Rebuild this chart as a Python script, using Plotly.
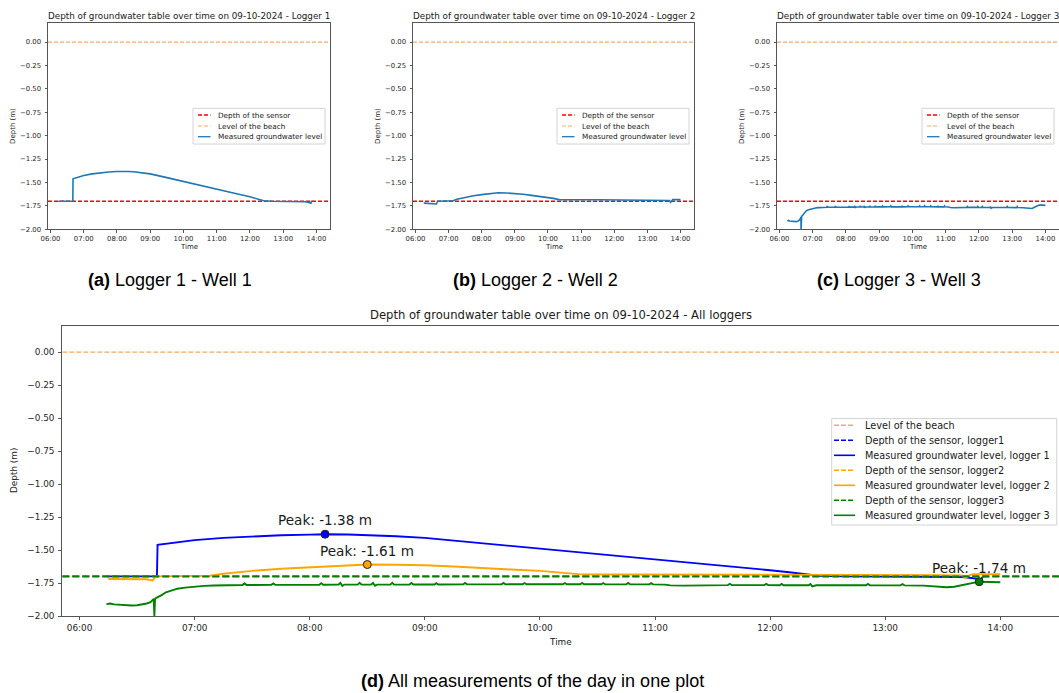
import plotly.graph_objects as go

DAY = "2024-10-09"
FIG_W, FIG_H = 1059, 693
FONT = "DejaVu Sans"
CAPTION_FONT = "Liberation Sans"

# ---------------------------------------------------------------------------
# Groundwater depth (m, relative to the beach level) per logger, 09-10-2024
# ---------------------------------------------------------------------------
logger1_time = ["06:14:00", "06:20:00", "06:30:00", "06:40:20", "06:40:40", "06:45:00",
                "06:50:00", "07:00:00", "07:15:00", "07:30:00", "07:45:00", "08:00:00",
                "08:08:00", "08:20:00", "08:30:00", "08:45:00", "09:00:00", "09:30:00",
                "10:00:00", "10:30:00", "11:00:00", "11:30:00", "12:00:00", "12:10:00",
                "12:20:00", "12:25:00", "12:40:00", "13:00:00", "13:20:00", "13:40:00",
                "13:45:00", "13:48:00", "13:50:00", "13:51:00", "13:54:00"]
logger1_depth = [-1.700, -1.701, -1.701, -1.700, -1.460, -1.452,
                 -1.442, -1.425, -1.408, -1.396, -1.388, -1.383,
                 -1.380, -1.382, -1.386, -1.396, -1.408, -1.448,
                 -1.491, -1.532, -1.573, -1.613, -1.653, -1.668,
                 -1.684, -1.695, -1.700, -1.701, -1.703, -1.705,
                 -1.712, -1.718, -1.722, -1.700, -1.700]

logger2_time = ["06:15:00", "06:25:00", "06:35:00", "06:38:00", "06:40:00", "06:50:00",
                "07:00:00", "07:08:00", "07:15:00", "07:30:00", "07:45:00", "08:00:00",
                "08:15:00", "08:30:00", "08:45:00", "09:00:00", "09:15:00", "09:30:00",
                "09:45:00", "10:00:00", "10:10:00", "10:20:00", "10:30:00", "11:00:00",
                "11:30:00", "12:00:00", "12:30:00", "13:00:00", "13:30:00", "13:40:00",
                "13:42:00", "13:44:00", "13:46:00", "14:00:00"]
logger2_depth = [-1.720, -1.722, -1.722, -1.730, -1.700, -1.698,
                 -1.697, -1.695, -1.680, -1.658, -1.642, -1.630,
                 -1.620, -1.610, -1.612, -1.615, -1.625, -1.638,
                 -1.648, -1.658, -1.670, -1.683, -1.685, -1.685,
                 -1.685, -1.687, -1.688, -1.690, -1.690, -1.692,
                 -1.712, -1.690, -1.683, -1.683]

logger3_time = ["06:14:00", "06:16:00", "06:18:00", "06:21:00", "06:24:00", "06:27:00",
                "06:30:00", "06:33:00", "06:35:00", "06:37:00", "06:38:00", "06:38:40",
                "06:39:00", "06:39:20", "06:40:00", "06:41:00", "06:43:00", "06:45:00",
                "06:48:00", "06:51:00", "06:55:00", "07:00:00", "07:05:00", "07:10:00",
                "07:15:00", "07:20:00", "07:25:00", "07:26:00", "07:27:00", "07:40:00",
                "07:41:00", "07:42:00", "08:00:00", "08:05:00", "08:06:00", "08:07:00",
                "08:15:00", "08:16:00", "08:17:00", "08:18:00", "08:25:00", "08:26:00",
                "08:27:00", "08:32:00", "08:33:00", "08:34:00", "08:35:00", "08:42:00",
                "08:43:00", "08:44:00", "08:52:00", "08:53:00", "08:54:00", "09:05:00",
                "09:06:00", "09:07:00", "09:20:00", "09:21:00", "09:22:00", "09:40:00",
                "09:41:00", "09:42:00", "09:51:00", "09:52:00", "09:53:00", "10:12:00",
                "10:13:00", "10:14:00", "10:21:00", "10:22:00", "10:23:00", "10:32:00",
                "10:33:00", "10:34:00", "10:45:00", "10:46:00", "10:47:00", "10:57:00",
                "10:58:00", "10:59:00", "11:05:00", "11:08:00", "11:15:00", "11:25:00",
                "11:33:00", "11:38:00", "11:39:00", "11:40:00", "11:57:00", "11:58:00",
                "11:59:00", "12:05:00", "12:06:00", "12:07:00", "12:20:00", "12:21:00",
                "12:22:00", "12:24:00", "12:50:00", "12:51:00", "12:52:00", "13:08:00",
                "13:09:00", "13:10:00", "13:20:00", "13:27:00", "13:32:00", "13:36:00",
                "13:40:00", "13:43:00", "13:46:00", "13:49:00", "13:55:00", "14:00:00"]
logger3_depth = [-1.910, -1.905, -1.912, -1.915, -1.918, -1.920,
                 -1.918, -1.913, -1.905, -1.895, -1.880, -1.870,
                 -2.000, -1.870, -1.862, -1.855, -1.840, -1.820,
                 -1.805, -1.793, -1.785, -1.777, -1.772, -1.769,
                 -1.767, -1.766, -1.765, -1.752, -1.765, -1.764,
                 -1.753, -1.764, -1.763, -1.763, -1.751, -1.763,
                 -1.762, -1.750, -1.772, -1.762, -1.762, -1.749,
                 -1.762, -1.762, -1.750, -1.771, -1.762, -1.762,
                 -1.748, -1.762, -1.761, -1.750, -1.761, -1.761,
                 -1.751, -1.761, -1.760, -1.750, -1.760, -1.760,
                 -1.749, -1.760, -1.759, -1.750, -1.759, -1.759,
                 -1.750, -1.759, -1.759, -1.749, -1.759, -1.759,
                 -1.750, -1.759, -1.760, -1.749, -1.760, -1.760,
                 -1.751, -1.760, -1.762, -1.768, -1.770, -1.770,
                 -1.768, -1.766, -1.756, -1.766, -1.766, -1.757,
                 -1.766, -1.767, -1.757, -1.767, -1.767, -1.758,
                 -1.775, -1.767, -1.767, -1.757, -1.767, -1.768,
                 -1.758, -1.768, -1.770, -1.776, -1.782, -1.778,
                 -1.765, -1.758, -1.748, -1.740, -1.742, -1.744]

sensor_depth = [-1.70, -1.70, -1.70]
beach_level = 0.00

logger_times = [logger1_time, logger2_time, logger3_time]
logger_depths = [logger1_depth, logger2_depth, logger3_depth]
logger_titles = ["Logger 1", "Logger 2", "Logger 3"]
well_captions = ["Logger 1 - Well 1", "Logger 2 - Well 2", "Logger 3 - Well 3"]
caption_letters = ["(a)", "(b)", "(c)"]
overview_colors = ["blue", "orange", "green"]

hour_ticks = ["06:00", "07:00", "08:00", "09:00", "10:00", "11:00", "12:00", "13:00", "14:00"]
depth_ticks = [-2.00, -1.75, -1.50, -1.25, -1.00, -0.75, -0.50, -0.25, 0.00]
depth_range = [-2.0, 0.2]

TAB_BLUE = "#1f77b4"
BEACH = "rgba(244,164,96,0.95)"

# ---------------------------------------------------------------------------
# Layout helpers (positions in pixels of the page)
# ---------------------------------------------------------------------------
def fx(px):
    return px / FIG_W


def fy(py):
    return 1 - py / FIG_H


def stamp(t):
    return f"{DAY} {t}"


def add_axes(fig, idx, x_px, y_px, x_range, tick_size, tick_len, line_col, right_spine):
    sfx = "" if idx == 1 else str(idx)
    tickfont = dict(family=FONT, size=tick_size, color="#262626")
    fig.update_layout(**{
        "xaxis" + sfx: dict(
            domain=[fx(x_px[0]), fx(x_px[1])], anchor="y" + sfx, type="date",
            range=[stamp(x_range[0]), stamp(x_range[1])],
            tickmode="array", tickvals=[stamp(t + ":00") for t in hour_ticks],
            tickformat="%H:%M", ticks="outside", ticklen=tick_len, tickwidth=1,
            tickcolor=line_col, showline=True, linewidth=1, linecolor=line_col,
            mirror=True, showgrid=False, zeroline=False, tickfont=tickfont,
            automargin=False,
        ),
        "yaxis" + sfx: dict(
            domain=[fy(y_px[1]), fy(y_px[0])], anchor="x" + sfx, range=depth_range,
            tickmode="array", tickvals=depth_ticks, tickformat=".2f",
            ticks="outside", ticklen=tick_len, tickwidth=1, tickcolor=line_col,
            showline=True, linewidth=1, linecolor=line_col, mirror=right_spine,
            showgrid=False, zeroline=False, tickfont=tickfont,
            ticklabelstandoff=2, automargin=False,
        ),
    })
    return "x" + sfx, "y" + sfx


def hline(fig, xa, ya, x_range, value, color, width, dash):
    fig.add_trace(go.Scatter(
        x=[stamp(x_range[0]), stamp(x_range[1])], y=[value, value], mode="lines",
        line=dict(color=color, width=width, dash=dash), xaxis=xa, yaxis=ya,
        hoverinfo="skip"))


def text(fig, x, y, s, size, family=FONT, color="#1a1a1a", angle=0, xanchor="center"):
    fig.add_annotation(x=fx(x), y=fy(y), xref="paper", yref="paper", text=s,
                       showarrow=False, xanchor=xanchor, yanchor="middle",
                       textangle=angle, font=dict(family=family, size=size, color=color))


def legend_box(fig, box, rows, sample_x, text_x, entries, size):
    left, top, right, bottom = box
    fig.add_shape(type="rect", xref="paper", yref="paper",
                  x0=fx(left), x1=fx(right), y0=fy(bottom), y1=fy(top),
                  line=dict(color="#d4d4d4", width=1), fillcolor="rgba(255,255,255,0.85)",
                  layer="above")
    for (label, color, dash, width), ry in zip(entries, rows):
        fig.add_shape(type="line", xref="paper", yref="paper",
                      x0=fx(sample_x[0]), x1=fx(sample_x[1]), y0=fy(ry), y1=fy(ry),
                      line=dict(color=color, width=width, dash=dash), layer="above")
        text(fig, text_x, ry, label, size, xanchor="left")


fig = go.Figure()

# ---------------------------------------------------------------------------
# (a)-(c): one panel per logger
# ---------------------------------------------------------------------------
small_range = ("05:55:30", "14:24:30")
small_x = [(48, 330), (413, 694), (777, 1059)]
small_y = (23.3, 229.3)
small_legend_entries = [
    ("Depth of the sensor", "red", "4px,2px", 1.5),
    ("Level of the beach", BEACH, "4px,2px", 1.2),
    ("Measured groundwater level", TAB_BLUE, "solid", 1.3),
]

for i in range(3):
    x0, x1 = small_x[i]
    xa, ya = add_axes(fig, i + 1, (x0, x1), small_y, small_range, 6.9, 2.5, "#555555",
                      right_spine=(i < 2))
    hline(fig, xa, ya, small_range, sensor_depth[i], "red", 1.5, "4px,2px")
    hline(fig, xa, ya, small_range, beach_level, BEACH, 1.2, "4px,2px")
    fig.add_trace(go.Scatter(
        x=[stamp(t) for t in logger_times[i]], y=logger_depths[i], mode="lines",
        line=dict(color=TAB_BLUE, width=1.6), xaxis=xa, yaxis=ya, hoverinfo="skip"))

    centre = (x0 + x1) / 2
    text(fig, centre, 16, f"Depth of groundwater table over time on 09-10-2024 - {logger_titles[i]}", 8.8)
    text(fig, centre, 247, "Time", 7)
    text(fig, x0 - 35.5, 126.5, "Depth (m)", 7, angle=-90)
    legend_box(fig, (x1 - 137, 108.3, x1 - 5, 144), [115, 126, 136.7],
               (x1 - 132, x1 - 119.5), x1 - 114.5, small_legend_entries, 7.3)

caption_x = [170, 535, 899]
for i in range(3):
    text(fig, caption_x[i], 280, f"<b>{caption_letters[i]}</b> {well_captions[i]}", 18,
         family=CAPTION_FONT, color="#000000")

# ---------------------------------------------------------------------------
# (d): all loggers together
# ---------------------------------------------------------------------------
big_range = ("05:51:00", "14:30:36")
big_x = (62.3, 1059)
big_y = (325.7, 616)
xa, ya = add_axes(fig, 4, big_x, big_y, big_range, 8.9, 3, "#555555", right_spine=False)

hline(fig, xa, ya, big_range, beach_level, BEACH, 1.4, "5px,2px")
for i in range(3):
    hline(fig, xa, ya, big_range, sensor_depth[i], overview_colors[i], 1.9, "7px,3px")
    fig.add_trace(go.Scatter(
        x=[stamp(t) for t in logger_times[i]], y=logger_depths[i], mode="lines",
        line=dict(color=overview_colors[i], width=1.9), xaxis=xa, yaxis=ya,
        hoverinfo="skip"))

# highest level reached by each logger
for i in range(3):
    depths = logger_depths[i]
    k = max(range(len(depths)), key=lambda j: depths[j])
    t_peak, d_peak = stamp(logger_times[i][k]), depths[k]
    fig.add_trace(go.Scatter(
        x=[t_peak], y=[d_peak], mode="markers",
        marker=dict(color=overview_colors[i], size=8, line=dict(color="#222222", width=1)),
        xaxis=xa, yaxis=ya, hoverinfo="skip"))
    fig.add_annotation(x=t_peak, y=d_peak, xref=xa, yref=ya, text=f"Peak: {d_peak:.2f} m",
                       showarrow=False, xanchor="center", yanchor="bottom", yshift=4,
                       font=dict(family=FONT, size=13.6, color="#1a1a1a"))

text(fig, (big_x[0] + big_x[1]) / 2, 315,
     "Depth of groundwater table over time on 09-10-2024 - All loggers", 11.6)
text(fig, 560, 641.7, "Time", 8.9)
text(fig, 14, 471, "Depth (m)", 8.9, angle=-90)

big_legend_entries = [("Level of the beach", BEACH, "5px,2px", 1.4)]
for i in range(3):
    big_legend_entries.append((f"Depth of the sensor, logger{i + 1}", overview_colors[i], "5px,2px", 1.6))
    big_legend_entries.append((f"Measured groundwater level, logger {i + 1}", overview_colors[i], "solid", 1.6))
legend_box(fig, (831.7, 418.5, 1056.7, 525), [425.3 + 15 * r for r in range(7)],
           (834, 855), 863, big_legend_entries, 9.7)

text(fig, 532.5, 681, "<b>(d)</b> All measurements of the day in one plot", 18,
     family=CAPTION_FONT, color="#000000")

fig.update_layout(
    width=FIG_W, height=FIG_H,
    margin=dict(l=0, r=0, t=0, b=0, pad=0, autoexpand=False),
    paper_bgcolor="white", plot_bgcolor="white", showlegend=False,
)

fig.write_html("out.html")
